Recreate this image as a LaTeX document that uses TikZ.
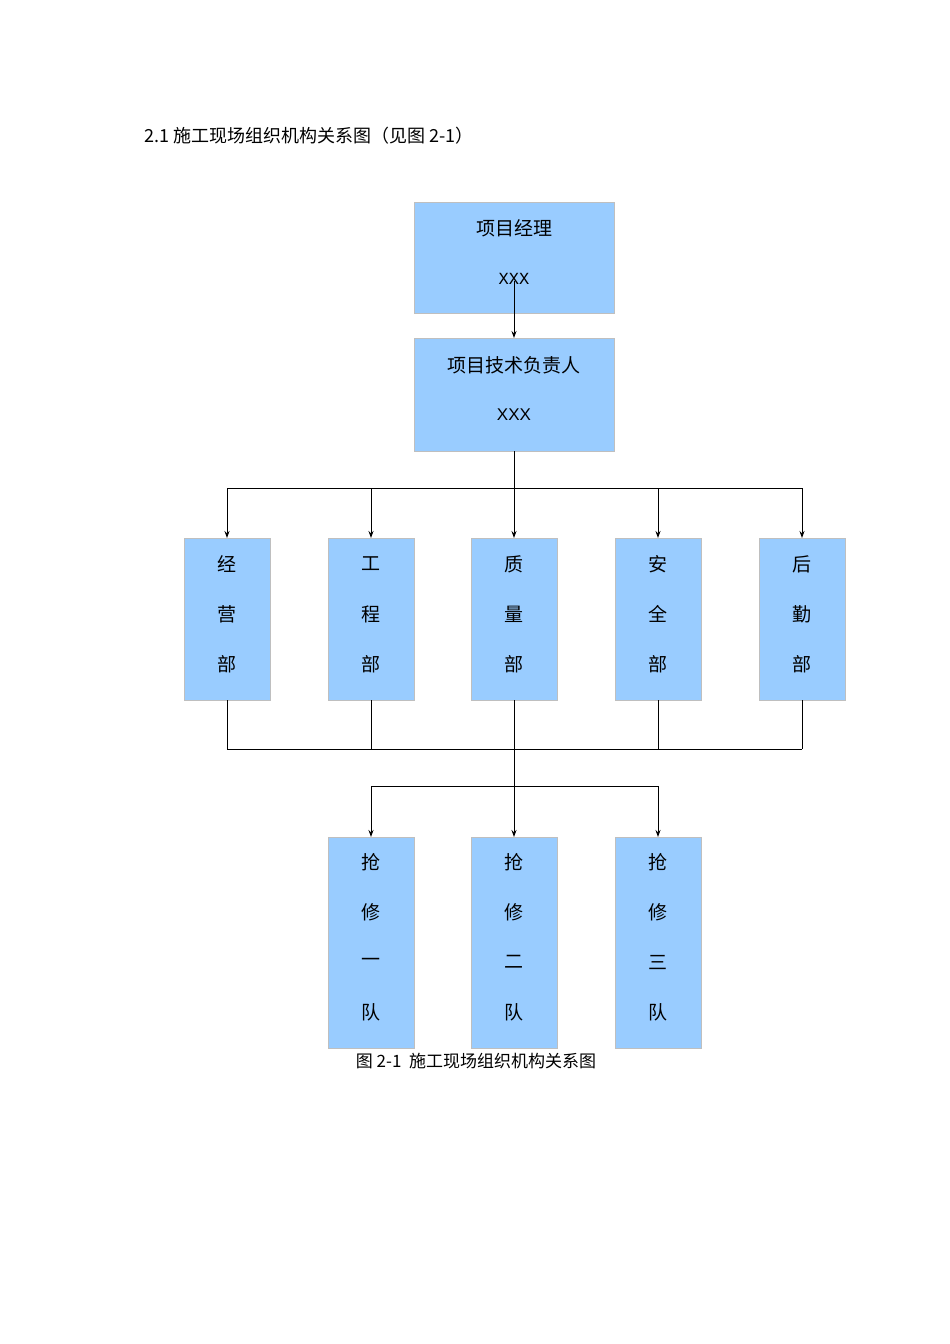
\documentclass[tikz,border=0pt]{standalone}
\usetikzlibrary{arrows.meta}
\usepackage{fontspec}
\newfontfamily\cjk{Noto Sans CJK SC}
\newfontfamily\lmono{Liberation Mono}
\newfontfamily\lsans{Liberation Sans}
\begin{document}
\begin{tikzpicture}[x=1pt,y=-1pt,
  lbl/.style={font=\cjk\fontsize{19}{19}\selectfont,inner sep=0pt},
  conn/.style={line width=1pt,black},
  arr/.style={conn,-{Stealth[length=7pt,width=5pt]}}]
\useasboundingbox (0,0) rectangle (950,1344);
\tikzset{box/.style={draw=black!25,fill={rgb,255:red,153;green,204;blue,255},line width=0.6pt}}
\node[lbl,anchor=west,font=\cjk\fontsize{18}{18}\selectfont] (title) at (144,136) {2.1 施工现场组织机构关系图（见图 2-1）};
% top boxes
\draw[box] (414,202) rectangle (614,313);
\node[lbl] (pm) at (514,228) {项目经理};
\node[lbl,font=\lmono\fontsize{17}{17}\selectfont] (pmx) at (514,279) {XXX};
\draw[box] (414,338) rectangle (614,451);
\node[lbl] (tech) at (514,365) {项目技术负责人};
\node[lbl,font=\lsans\fontsize{17}{17}\selectfont] (techx) at (514,415) {XXX};
\coordinate (a1) at (514,281); \coordinate (a2) at (514,338);
\draw[arr] (a1) -- (a2);
% dept level
\coordinate (tb) at (514,451); \coordinate (hb) at (514,488);
\draw[conn] (tb) -- (hb);
\draw[conn] (227,488) -- (802,488);
\foreach \x/\i in {227/1,371/2,514/3,658/4,802/5}{
  \coordinate (d\i top) at (\x,538);
  \draw[arr] (\x,488) -- (d\i top);
  \draw[box] (\x-43,538) rectangle (\x+43,700);
  \draw[conn,line width=0.7pt] (\x,700) -- (\x,749);
}
\draw[conn] (227,749) -- (802,749);
\foreach \x/\a/\b/\c/\i in {227/经/营/部/1,371/工/程/部/2,514/质/量/部/3,658/安/全/部/4,802/后/勤/部/5}{
  \node[lbl] (d\i a) at (\x,564) {\a};
  \node[lbl] (d\i b) at (\x,614) {\b};
  \node[lbl] (d\i c) at (\x,664) {\c};
}
% teams
\draw[conn] (371,786) -- (658,786);
\coordinate (m1) at (514,749);
\foreach \x/\i in {371/1,514/2,658/3}{
  \coordinate (t\i top) at (\x,837);
  \draw[box] (\x-43,837) rectangle (\x+43,1048);
}
\draw[arr] (m1) -- (t2top);
\draw[arr] (371,786) -- (t1top);
\draw[arr] (658,786) -- (t3top);
\foreach \x/\a/\b/\c/\d/\i in {371/抢/修/一/队/1,514/抢/修/二/队/2,658/抢/修/三/队/3}{
  \node[lbl] (t\i a) at (\x,862) {\a};
  \node[lbl] (t\i b) at (\x,912) {\b};
  \node[lbl] (t\i c) at (\x,962) {\c};
  \node[lbl] (t\i d) at (\x,1012) {\d};
}
\node[lbl,font=\cjk\fontsize{17}{17}\selectfont] (cap) at (476,1061) {图 2-1\ \ 施工现场组织机构关系图};
\end{tikzpicture}
\end{document}
